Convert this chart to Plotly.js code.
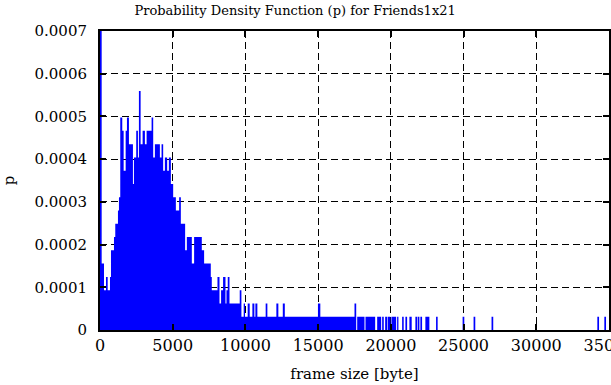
<!DOCTYPE html>
<html><head><meta charset="utf-8">
<script src="https://cdn.plot.ly/plotly-3.0.1.min.js"></script>
<style>html,body{margin:0;padding:0;background:#fff}#chart{width:611px;height:385px}</style>
</head><body><div id="chart"></div>
<script>
// probability density of one frame occurrence (p per counted frame)
const pUnit = 3.108e-5;

// contiguous part of the histogram: bin edges [byte] and counts
const denseEdges = [0,115,275,412,528,686,755,961,1050,1235,1304,1393,1530,1626,1764,1853,1990,2265,2333,2491,2608,2676,2793,2930,3088,3205,3548,3658,3774,4118,4234,4344,4461,4619,4735,4873,5031,5216,5442,5559,5854,5971,6314,6472,7000,7159,7618,7687,8078,8216,8326,8463,8628,8696,8785,8903,9608,9724,9882,9971,10156,10294,10477,10615,10684,10821,11392,11509,12127,12264,12570,12708,14987,15150,17500,17617];
const denseCounts = [23,5,3,4,3,4,6,7,8,9,10,16,15,12,15,16,14,11,13,15,13,18,14,15,14,15,16,13,14,13,14,12,13,12,13,11,10,9,10,8,6,7,5,7,6,5,4,3,4,2,3,4,2,3,4,2,3,1,2,1,2,1,2,1,2,1,2,1,2,1,2,1,2,1,2];

// sparse tail: bin start/end [byte] and counts
const tailStart = [17686,18256,19059,19402,19608,19786,20040,20431,20775,21001,21275,21687,21845,22030,22373,23108,24934,25688,26923,34198,34679];
const tailEnd   = [18187,18921,19333,19512,19745,19971,20363,20520,20884,21118,21433,21803,21962,22147,22648,23218,25050,25805,27040,34315,34795];
const tailCounts = [1,1,1,1,1,1,1,1,1,1,1,1,1,1,1,1,1,1,1,1,1];

const xTickVals = [0,5000,10000,15000,20000,25000,30000,35000];
const xTickText = ['0','5000','10000','15000','20000','25000','30000','35000'];
const yTickVals = [0,0.0001,0.0002,0.0003,0.0004,0.0005,0.0006,0.0007];
const yTickText = ['0','0.0001','0.0002','0.0003','0.0004','0.0005','0.0006','0.0007'];

// step outline of the histogram (horizontal-then-vertical), filled to zero
const xs = [], ys = [];
for (let i = 0; i < denseCounts.length; i++) {
  xs.push(denseEdges[i]); ys.push(denseCounts[i] * pUnit);
}
xs.push(denseEdges[denseEdges.length - 1]); ys.push(0);
for (let i = 0; i < tailCounts.length; i++) {
  xs.push(tailStart[i]); ys.push(tailCounts[i] * pUnit);
  xs.push(tailEnd[i]); ys.push(0);
}

const FONT = 'DejaVu Serif';
const axisCommon = {
  ticks: 'inside', ticklen: 6, tickwidth: 2, tickcolor: '#000',
  mirror: 'allticks', showline: true, linecolor: '#000', linewidth: 2,
  showgrid: true, gridcolor: '#000', gridwidth: 1, griddash: '7px,4px',
  zeroline: false, ticklabeloverflow: 'allow',
  tickfont: {family: FONT, size: 15, color: '#000'}
};

const trace = {
  type: 'scatter', mode: 'lines', x: xs, y: ys,
  line: {shape: 'hv', width: 0, color: '#0000ff'},
  fill: 'tozeroy', fillcolor: '#0000ff',
  hoverinfo: 'x+y'
};

const layout = {
  width: 611, height: 385,
  margin: {l: 100, r: 2, t: 31, b: 55},
  paper_bgcolor: '#fff', plot_bgcolor: '#fff',
  showlegend: false,
  title: {text: 'Probability Density Function (p) for Friends1x21',
          font: {family: FONT, size: 13, color: '#000'},
          xref: 'container', x: 0.483, xanchor: 'center',
          yref: 'container', y: 0.974, yanchor: 'middle'},
  xaxis: Object.assign({}, axisCommon, {
    range: [0, 35000], tickvals: xTickVals, ticktext: xTickText,
    tickfont: {family: FONT, size: 16, color: '#000'},
    title: {text: 'frame size [byte]', font: {family: FONT, size: 15, color: '#000'}, standoff: 14}
  }),
  yaxis: Object.assign({}, axisCommon, {
    range: [0, 0.0007], tickvals: yTickVals, ticktext: yTickText,
    ticklabelstandoff: 8,
    title: {text: 'p', font: {family: FONT, size: 15, color: '#000'}, standoff: 18}
  })
};

Plotly.newPlot('chart', [trace], layout, {displayModeBar: false, staticPlot: true});
</script></body></html>
